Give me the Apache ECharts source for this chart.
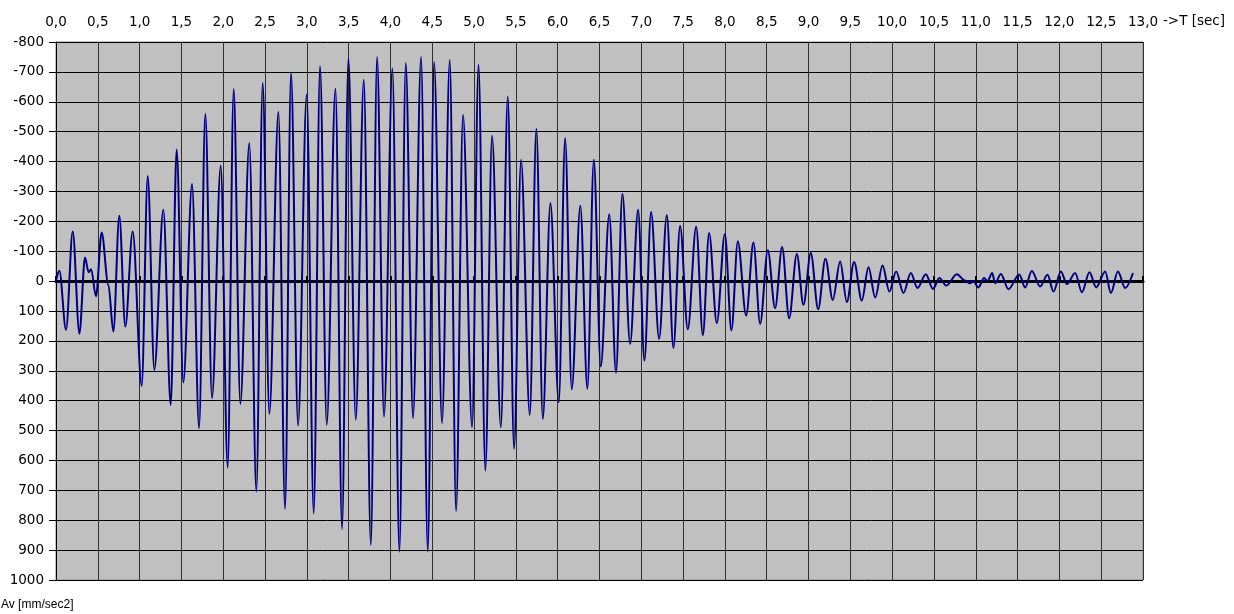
<!DOCTYPE html>
<html>
<head>
<meta charset="utf-8">
<script src="https://cdn.jsdelivr.net/npm/echarts@6/dist/echarts.min.js"></script>
<style>
  html, body { margin: 0; padding: 0; background: #fff; }
  #chart { width: 1234px; height: 614px; }
</style>
</head>
<body>
<div id="chart"></div>
<script>
// Vertical acceleration record: time of each turning point [s] and its value [mm/sec2]
const times = [
  0.000, 0.040, 0.120, 0.200, 0.280, 0.347, 0.390, 0.420, 0.478, 0.546,
  0.626, 0.686, 0.757, 0.829, 0.917, 1.025, 1.097, 1.176, 1.284, 1.372,
  1.443, 1.523, 1.627, 1.711, 1.786, 1.866, 1.970, 2.053, 2.125, 2.205,
  2.312, 2.396, 2.472, 2.552, 2.660, 2.739, 2.811, 2.895, 2.998, 3.082,
  3.158, 3.238, 3.342, 3.421, 3.497, 3.585, 3.681, 3.765, 3.840, 3.923,
  4.023, 4.107, 4.183, 4.270, 4.366, 4.446, 4.522, 4.617, 4.709, 4.785,
  4.868, 4.976, 5.053, 5.135, 5.215, 5.320, 5.403, 5.478, 5.562, 5.666,
  5.745, 5.822, 5.913, 6.013, 6.089, 6.168, 6.271, 6.355, 6.432, 6.515,
  6.617, 6.697, 6.774, 6.866, 6.962, 7.037, 7.117, 7.213, 7.305, 7.384,
  7.464, 7.556, 7.656, 7.736, 7.811, 7.903, 7.999, 8.078, 8.154, 8.254,
  8.341, 8.421, 8.513, 8.600, 8.684, 8.768, 8.860, 8.939, 9.027, 9.115,
  9.202, 9.290, 9.378, 9.458, 9.545, 9.637, 9.717, 9.797, 9.885, 9.967,
  10.048, 10.135, 10.223, 10.303, 10.403, 10.487, 10.566, 10.646, 10.774, 10.870,
  10.930, 10.970, 11.030, 11.100, 11.140, 11.196, 11.232, 11.300, 11.390, 11.520,
  11.590, 11.670, 11.770, 11.858, 11.930, 12.018, 12.090, 12.189, 12.269, 12.360,
  12.440, 12.548, 12.616, 12.700, 12.787, 12.880
];
const accel = [
  0, -35, 163, -166, 176, -79, -30, -40, 51, -163,
  12, 169, -219, 152, -166, 350, -352, 297, -239, 414,
  -440, 339, -325, 492, -560, 392, -386, 624, -643, 411,
  -462, 704, -663, 444, -567, 762, -696, 483, -624, 777,
  -719, 481, -644, 829, -745, 464, -674, 883, -750, 453,
  -711, 905, -730, 459, -750, 905, -733, 475, -740, 769,
  -557, 489, -724, 634, -486, 489, -618, 561, -406, 448,
  -510, 461, -261, 405, -479, 362, -252, 360, -406, 286,
  -224, 307, -292, 210, -239, 266, -231, 193, -220, 224,
  -184, 161, -182, 181, -161, 141, -158, 165, -133, 115,
  -129, 143, -103, 91, -114, 124, -91, 79, -94, 94,
  -75, 63, -66, 70, -64, 65, -46, 55, -52, 35,
  -32, 40, -27, 23, -23, 26, -10, 15, -23, -2,
  7, 0, 21, -10, 0, -27, 7, -24, 27, -22,
  21, -34, 18, -21, 35, -32, 10, -27, 37, -30,
  21, -32, 40, -32, 23, -27
];

// Axis ranges and tick steps
const tMin = 0, tMax = 13, tStep = 0.5;
const aMin = -800, aMax = 1000, aStep = 100;

const seriesData = times.map((t, i) => [t, accel[i]]);
const fmtTime = v => v.toFixed(1).replace('.', ',');
const fmtAccel = v => String(v);
const AXIS_FONT = 'DejaVu Sans, Verdana, sans-serif';
const NOTE_FONT = 'Liberation Sans, Arial, sans-serif';

const chart = echarts.init(document.getElementById('chart'), null, { renderer: 'canvas' });
chart.setOption({
  animation: false,
  backgroundColor: '#ffffff',
  grid: {
    left: 56, right: 91, top: 42, bottom: 34,
    show: true, backgroundColor: '#c0c0c0', borderColor: '#888888', borderWidth: 1
  },
  xAxis: [
    {
      type: 'value', position: 'top', min: tMin, max: tMax, interval: tStep,
      axisLine: { show: false, onZero: false },
      axisTick: { show: false },
      axisLabel: { formatter: fmtTime, color: '#000', fontSize: 13.5, fontFamily: AXIS_FONT, margin: 13 },
      splitLine: { show: true, lineStyle: { color: '#303030', width: 1 } }
    },
    {
      // time axis line crossing at zero acceleration
      type: 'value', position: 'bottom', min: tMin, max: tMax, interval: tStep,
      axisLine: { show: true, onZero: true, lineStyle: { color: '#000', width: 3 } },
      axisTick: { show: true, inside: true, length: 5, lineStyle: { color: '#000', width: 2 } },
      axisLabel: { show: false },
      splitLine: { show: false }
    }
  ],
  yAxis: {
    type: 'value', inverse: true, min: aMin, max: aMax, interval: aStep,
    axisLine: { show: true, onZero: false, lineStyle: { color: '#000', width: 1 } },
    axisTick: { show: true, length: 7, lineStyle: { color: '#000' } },
    axisLabel: { formatter: fmtAccel, color: '#000', fontSize: 13.5, fontFamily: AXIS_FONT, margin: 12 },
    splitLine: { show: true, lineStyle: { color: '#000', width: 1 } }
  },
  graphic: [
    { type: 'text', left: 1163, top: 14, style: { text: '->T [sec]', fill: '#000', font: '13.5px ' + AXIS_FONT } },
    { type: 'text', left: 1, bottom: 3, style: { text: 'Av [mm/sec2]', fill: '#000', font: '12px ' + NOTE_FONT } }
  ],
  series: [{
    type: 'line',
    xAxisIndex: 0,
    data: seriesData,
    showSymbol: false,
    smooth: 0.33,
    smoothMonotone: 'x',
    lineStyle: { color: '#000080', width: 2 },
    z: 5
  }]
});
</script>
</body>
</html>
